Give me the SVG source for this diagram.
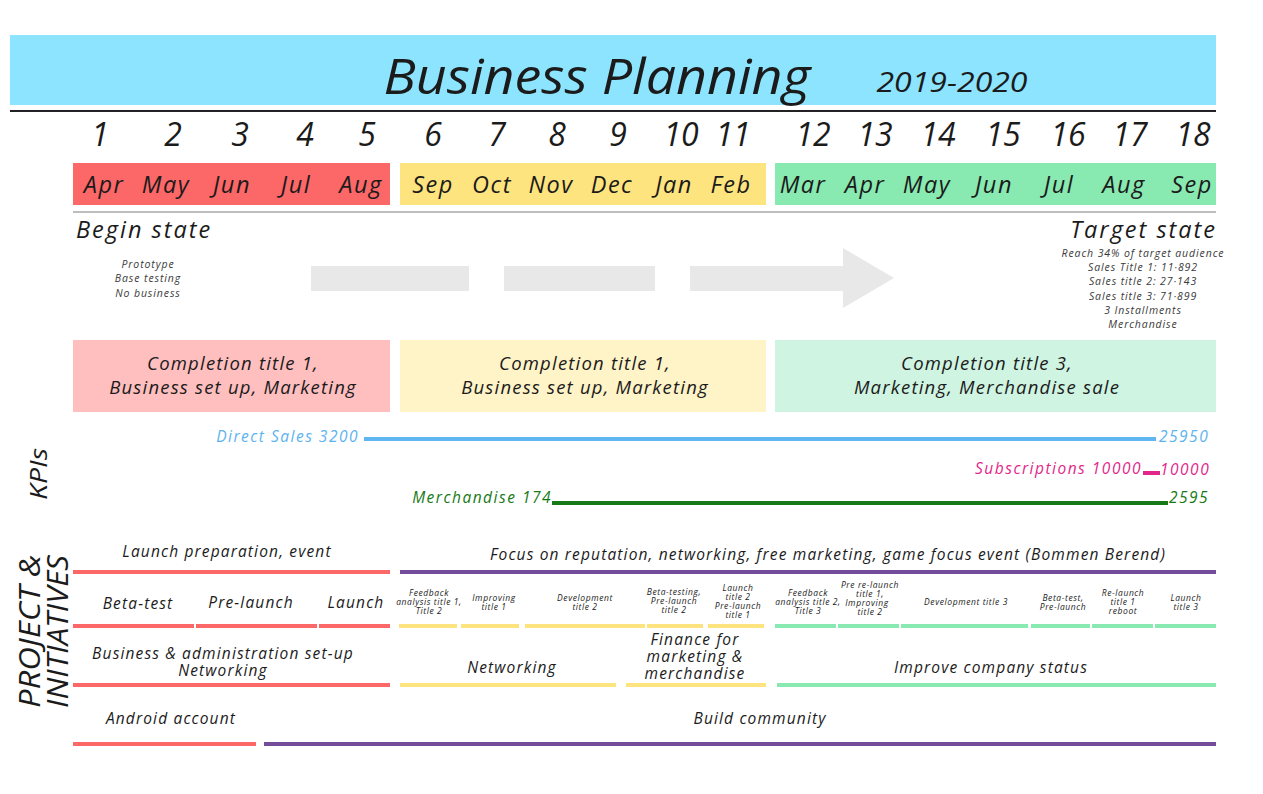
<svg xmlns="http://www.w3.org/2000/svg" width="1263" height="794" viewBox="0 0 1263 794">
  <style>
    text { font-family: "Open Sans", "DejaVu Sans", sans-serif; font-style: italic; fill: #1b1b1b; }
    .c { text-anchor: middle; }
    .e { text-anchor: end; }
    .num { font-size: 32px; text-anchor: middle; }
    .mon { font-size: 23.5px; text-anchor: middle; letter-spacing: 1.5px; }
    .state { font-size: 23.5px; letter-spacing: 2px; }
    .note { font-size: 10.5px; text-anchor: middle; fill: #3a3a3a; letter-spacing: 0.9px; }
    .box { font-size: 18.5px; text-anchor: middle; letter-spacing: 1.2px; }
    .kpi { font-size: 15.5px; letter-spacing: 1.5px; }
    .lbl { font-size: 15.5px; text-anchor: middle; letter-spacing: 1.15px; }
    .tiny { font-size: 8.5px; text-anchor: middle; letter-spacing: 0.6px; }
    .bar { stroke-width: 4; fill: none; }
    .red { stroke: #fc6767; }
    .yel { stroke: #fee47e; }
    .grn { stroke: #88e9b1; }
    .pur { stroke: #744d9a; }
    .dash { fill: #e8e8e8; }
  </style>

  <rect width="1263" height="794" fill="#ffffff"/>

  <!-- title banner -->
  <g id="title">
    <rect x="10" y="35" width="1206" height="70" fill="#8de4fe"/>
    <text x="597" y="94" class="c" font-size="50" textLength="427" lengthAdjust="spacingAndGlyphs">Business Planning</text>
    <text x="952" y="92" class="c" font-size="28" textLength="151" lengthAdjust="spacingAndGlyphs">2019-2020</text>
    <line x1="10" y1="111" x2="1216" y2="111" stroke="#222" stroke-width="2"/>
  </g>

  <!-- month numbers -->
  <g id="numbers">
    <text x="100" y="146" class="num">1</text>
    <text x="173" y="146" class="num">2</text>
    <text x="240" y="146" class="num">3</text>
    <text x="305" y="146" class="num">4</text>
    <text x="367" y="146" class="num">5</text>
    <text x="433" y="146" class="num">6</text>
    <text x="497" y="146" class="num">7</text>
    <text x="557" y="146" class="num">8</text>
    <text x="618" y="146" class="num">9</text>
    <text x="681" y="146" class="num">10</text>
    <text x="733" y="146" class="num">11</text>
    <text x="813" y="146" class="num">12</text>
    <text x="875" y="146" class="num">13</text>
    <text x="938" y="146" class="num">14</text>
    <text x="1003" y="146" class="num">15</text>
    <text x="1068" y="146" class="num">16</text>
    <text x="1130" y="146" class="num">17</text>
    <text x="1193" y="146" class="num">18</text>
  </g>

  <!-- month bands -->
  <g id="months">
    <rect x="73" y="163" width="317" height="42" fill="#fc6767"/>
    <rect x="400" y="163" width="366" height="42" fill="#fee47e"/>
    <rect x="775" y="163" width="441" height="42" fill="#88e9b1"/>
    <text x="104" y="193" class="mon">Apr</text>
    <text x="166" y="193" class="mon">May</text>
    <text x="232" y="193" class="mon">Jun</text>
    <text x="296" y="193" class="mon">Jul</text>
    <text x="361" y="193" class="mon">Aug</text>
    <text x="433" y="193" class="mon">Sep</text>
    <text x="492" y="193" class="mon">Oct</text>
    <text x="551" y="193" class="mon">Nov</text>
    <text x="612" y="193" class="mon">Dec</text>
    <text x="674" y="193" class="mon">Jan</text>
    <text x="731" y="193" class="mon">Feb</text>
    <text x="803" y="193" class="mon">Mar</text>
    <text x="865" y="193" class="mon">Apr</text>
    <text x="927" y="193" class="mon">May</text>
    <text x="994" y="193" class="mon">Jun</text>
    <text x="1059" y="193" class="mon">Jul</text>
    <text x="1124" y="193" class="mon">Aug</text>
    <text x="1192" y="193" class="mon">Sep</text>
    <line x1="73" y1="212" x2="1216" y2="212" stroke="#bdbdbd" stroke-width="2"/>
  </g>

  <!-- begin and target states -->
  <g id="begin-state">
    <text x="76" y="238" class="state">Begin state</text>
    <text x="148" y="268" class="note">Prototype</text>
    <text x="148" y="282" class="note">Base testing</text>
    <text x="148" y="297" class="note">No business</text>
  </g>
  <g id="target-state">
    <text x="1217" y="238" class="state e">Target state</text>
    <text x="1143" y="257" class="note">Reach 34% of target audience</text>
    <text x="1143" y="271" class="note">Sales Title 1: 11·892</text>
    <text x="1143" y="285" class="note">Sales title 2: 27·143</text>
    <text x="1143" y="300" class="note">Sales title 3: 71·899</text>
    <text x="1143" y="314" class="note">3 Installments</text>
    <text x="1143" y="328" class="note">Merchandise</text>
  </g>

  <!-- dashed progress arrow -->
  <g id="progress-arrow">
    <rect x="311" y="266" width="158" height="25" class="dash"/>
    <rect x="504" y="266" width="151" height="25" class="dash"/>
    <rect x="690" y="266" width="153" height="25" class="dash"/>
    <polygon points="843,248 894,278 843,308" class="dash"/>
  </g>

  <!-- phase goals -->
  <g id="phase-1">
    <rect x="73" y="340" width="317" height="72" fill="#ffbfbf"/>
    <text x="233" y="370" class="box">Completion title 1,</text>
    <text x="233" y="394" class="box">Business set up, Marketing</text>
  </g>
  <g id="phase-2">
    <rect x="400" y="340" width="366" height="72" fill="#fff3c8"/>
    <text x="585" y="370" class="box">Completion title 1,</text>
    <text x="585" y="394" class="box">Business set up, Marketing</text>
  </g>
  <g id="phase-3">
    <rect x="775" y="340" width="441" height="72" fill="#cff4e2"/>
    <text x="987" y="370" class="box">Completion title 3,</text>
    <text x="987" y="394" class="box">Marketing, Merchandise sale</text>
  </g>

  <!-- KPIs -->
  <g id="kpis">
    <text transform="translate(47,500) rotate(-90)" font-size="24" textLength="52" lengthAdjust="spacingAndGlyphs">KPIs</text>
    <text x="359" y="442" class="kpi e" style="fill:#5cb3ef">Direct Sales  3200</text>
    <line x1="364" y1="439" x2="1156" y2="439" stroke="#5fb6f2" stroke-width="4"/>
    <text x="1159" y="442" class="kpi" style="fill:#5cb3ef">25950</text>
    <text x="1142" y="474" class="kpi e" style="fill:#e3268a">Subscriptions 10000</text>
    <line x1="1143" y1="473" x2="1160" y2="473" stroke="#e3268a" stroke-width="4"/>
    <text x="1160" y="475" class="kpi" style="fill:#e3268a">10000</text>
    <text x="552" y="503" class="kpi e" style="fill:#167a16">Merchandise 174</text>
    <line x1="552" y1="503" x2="1168" y2="503" stroke="#167a16" stroke-width="4"/>
    <text x="1169" y="503" class="kpi" style="fill:#167a16">2595</text>
  </g>

  <!-- projects and initiatives -->
  <g id="projects-heading">
    <text transform="translate(40,708) rotate(-90)" font-size="30" textLength="153" lengthAdjust="spacingAndGlyphs">PROJECT &amp;</text>
    <text transform="translate(68,708) rotate(-90)" font-size="30" textLength="153" lengthAdjust="spacingAndGlyphs">INITIATIVES</text>
  </g>

  <g id="row-1">
    <text x="227" y="557" class="lbl">Launch preparation, event</text>
    <text x="828" y="560" class="lbl">Focus on reputation, networking, free marketing, game focus event (Bommen Berend)</text>
  </g>

  <g id="row-2">
    <text x="138" y="609" class="lbl">Beta-test</text>
    <text x="251" y="608" class="lbl">Pre-launch</text>
    <text x="356" y="608" class="lbl">Launch</text>

    <text x="429" y="596" class="tiny">Feedback</text>
    <text x="429" y="605" class="tiny">analysis title 1,</text>
    <text x="429" y="614" class="tiny">Title 2</text>
    <text x="494" y="601" class="tiny">Improving</text>
    <text x="494" y="610" class="tiny">title 1</text>
    <text x="585" y="601" class="tiny">Development</text>
    <text x="585" y="610" class="tiny">title 2</text>
    <text x="674" y="595" class="tiny">Beta-testing,</text>
    <text x="674" y="604" class="tiny">Pre-launch</text>
    <text x="674" y="613" class="tiny">title 2</text>
    <text x="738" y="591" class="tiny">Launch</text>
    <text x="738" y="600" class="tiny">title 2</text>
    <text x="738" y="609" class="tiny">Pre-launch</text>
    <text x="738" y="618" class="tiny">title 1</text>

    <text x="808" y="596" class="tiny">Feedback</text>
    <text x="808" y="605" class="tiny">analysis title 2,</text>
    <text x="808" y="614" class="tiny">Title 3</text>
    <text x="870" y="588" class="tiny">Pre re-launch</text>
    <text x="870" y="597" class="tiny">title 1,</text>
    <text x="867" y="606" class="tiny">Improving</text>
    <text x="870" y="615" class="tiny">title 2</text>
    <text x="966" y="605" class="tiny">Development title 3</text>
    <text x="1063" y="601" class="tiny">Beta-test,</text>
    <text x="1063" y="610" class="tiny">Pre-launch</text>
    <text x="1123" y="596" class="tiny">Re-launch</text>
    <text x="1123" y="605" class="tiny">title 1</text>
    <text x="1123" y="614" class="tiny">reboot</text>
    <text x="1186" y="601" class="tiny">Launch</text>
    <text x="1186" y="610" class="tiny">title 3</text>
  </g>

  <g id="row-3">
    <text x="223" y="659" class="lbl">Business &amp; administration set-up</text>
    <text x="223" y="676" class="lbl">Networking</text>
    <text x="512" y="673" class="lbl">Networking</text>
    <text x="695" y="645" class="lbl">Finance for</text>
    <text x="695" y="662" class="lbl">marketing &amp;</text>
    <text x="695" y="679" class="lbl">merchandise</text>
    <text x="991" y="673" class="lbl">Improve company status</text>
  </g>

  <g id="row-4">
    <text x="171" y="724" class="lbl">Android account</text>
    <text x="760" y="724" class="lbl">Build community</text>
  </g>

  <!-- timeline bars -->
  <g id="connectors">
    <line x1="73" y1="572" x2="390" y2="572" class="bar red"/>
    <line x1="400" y1="572" x2="1216" y2="572" class="bar pur"/>

    <line x1="73" y1="626" x2="194" y2="626" class="bar red"/>
    <line x1="196" y1="626" x2="317" y2="626" class="bar red"/>
    <line x1="319" y1="626" x2="390" y2="626" class="bar red"/>
    <line x1="399" y1="626" x2="457" y2="626" class="bar yel"/>
    <line x1="461" y1="626" x2="519" y2="626" class="bar yel"/>
    <line x1="525" y1="626" x2="645" y2="626" class="bar yel"/>
    <line x1="647" y1="626" x2="703" y2="626" class="bar yel"/>
    <line x1="708" y1="626" x2="764" y2="626" class="bar yel"/>
    <line x1="775" y1="626" x2="836" y2="626" class="bar grn"/>
    <line x1="838" y1="626" x2="899" y2="626" class="bar grn"/>
    <line x1="901" y1="626" x2="1028" y2="626" class="bar grn"/>
    <line x1="1031" y1="626" x2="1090" y2="626" class="bar grn"/>
    <line x1="1092" y1="626" x2="1153" y2="626" class="bar grn"/>
    <line x1="1155" y1="626" x2="1216" y2="626" class="bar grn"/>

    <line x1="73" y1="685" x2="390" y2="685" class="bar red"/>
    <line x1="400" y1="685" x2="616" y2="685" class="bar yel"/>
    <line x1="626" y1="685" x2="766" y2="685" class="bar yel"/>
    <line x1="777" y1="685" x2="1216" y2="685" class="bar grn"/>

    <line x1="73" y1="744" x2="256" y2="744" class="bar red"/>
    <line x1="264" y1="744" x2="1216" y2="744" class="bar pur"/>
  </g>
</svg>
